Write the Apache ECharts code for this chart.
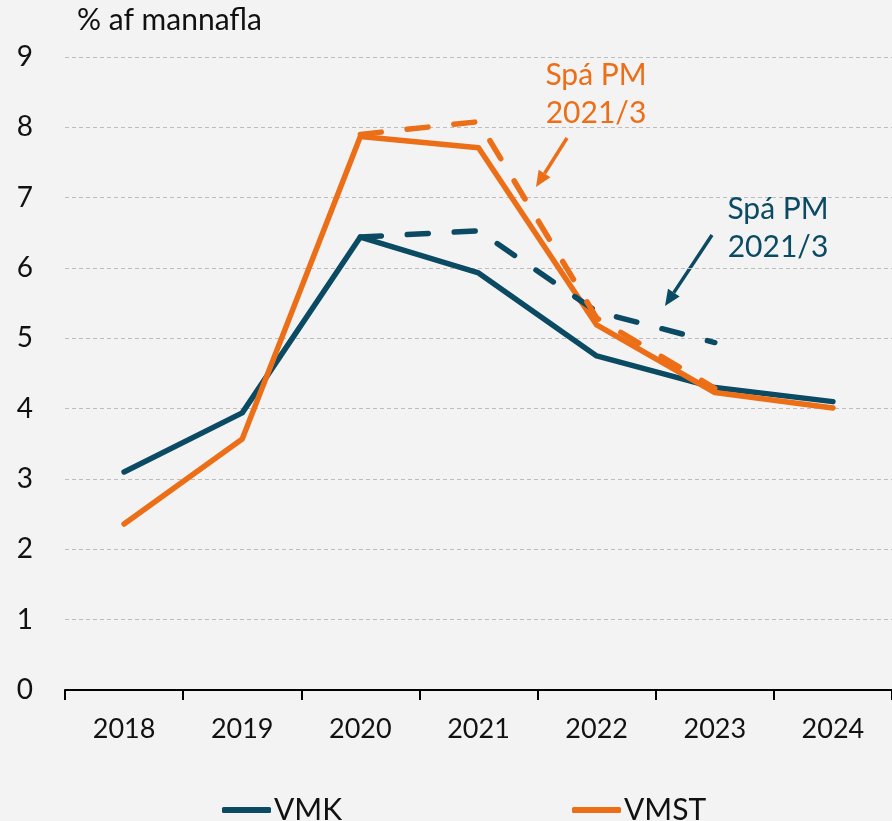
<!DOCTYPE html>
<html><head><meta charset="utf-8">
<script src="https://cdn.jsdelivr.net/npm/echarts@6/dist/echarts.min.js"></script>
<style>html,body{margin:0;padding:0;background:#f3f3f3}#c{width:892px;height:821px}</style>
</head><body><div id="c"></div>
<script>
const categories = ['2018','2019','2020','2021','2022','2023','2024'];
const vmk = [3.10, 3.94, 6.44, 5.93, 4.75, 4.30, 4.10];
const vmst = [2.36, 3.57, 7.87, 7.71, 5.19, 4.23, 4.01];
const vmkSpa = [null, null, 6.44, 6.53, 5.38, 4.94, null];
const vmstSpa = [null, null, 7.90, 8.08, 5.29, 4.29, null];
const yTicks = [0,1,2,3,4,5,6,7,8,9];

const TEAL = '#0b4a63';
const ORANGE = '#ec6e17';
const FONT = 'Lato';

function arrow(x1,y1,x2,y2,color){
  const ang = Math.atan2(y2-y1,x2-x1);
  const L = 16, W = 7;
  const bx = x2 - L*Math.cos(ang), by = y2 - L*Math.sin(ang);
  const px = -Math.sin(ang)*W, py = Math.cos(ang)*W;
  return [
    {type:'line', shape:{x1:x1,y1:y1,x2:bx,y2:by}, style:{stroke:color,lineWidth:3.5}},
    {type:'polygon', shape:{points:[[x2,y2],[bx+px,by+py],[bx-px,by-py]]}, style:{fill:color}}
  ];
}

const chart = echarts.init(document.getElementById('c'));
chart.setOption({
  backgroundColor:'#f3f3f3',
  animation:false,
  textStyle:{fontFamily:FONT},
  grid:{left:65,right:0,top:57,bottom:131,containLabel:false},
  xAxis:{type:'category',data:categories,boundaryGap:true,
    axisLine:{lineStyle:{color:'#000',width:2}},
    axisTick:{show:true,length:10,lineStyle:{color:'#000',width:2}},
    axisLabel:{color:'#111',fontSize:27,margin:26,fontFamily:FONT}},
  yAxis:{type:'value',min:yTicks[0],max:yTicks[yTicks.length-1],interval:1,
    name:'% af mannafla',nameLocation:'end',nameGap:22,
    nameTextStyle:{color:'#111',fontSize:30,align:'left',padding:[0,0,0,12],fontFamily:FONT},
    axisLine:{show:false},axisTick:{show:false},
    axisLabel:{color:'#111',fontSize:28,margin:32,fontFamily:FONT},
    splitLine:{lineStyle:{color:'#bdbdbd',type:[4,3],width:1}}},
  legend:[
    {data:['VMK'],left:222,top:795,padding:0,itemWidth:49,itemHeight:6,icon:'roundRect',itemGap:0,
     textStyle:{fontSize:30,color:'#111',fontFamily:FONT,padding:[0,0,0,-2]}},
    {data:['VMST'],left:572,top:795,padding:0,itemWidth:49,itemHeight:6,icon:'roundRect',itemGap:0,
     textStyle:{fontSize:30,color:'#111',fontFamily:FONT,padding:[0,0,0,-2]}}
  ],
  series:[
    {name:'VMK',type:'line',data:vmk,symbol:'none',color:TEAL,z:3,
     lineStyle:{width:5.5,color:TEAL,cap:'round',join:'round'}},
    {name:'VMST',type:'line',data:vmst,symbol:'none',color:ORANGE,z:4,
     lineStyle:{width:5.5,color:ORANGE,cap:'round',join:'round'}},
    {name:'VMK spá',type:'line',data:vmkSpa,symbol:'none',color:TEAL,z:5,
     lineStyle:{width:5.5,color:TEAL,type:[21,26],cap:'round',join:'round'}},
    {name:'VMST spá',type:'line',data:vmstSpa,symbol:'none',color:ORANGE,z:6,
     lineStyle:{width:5.5,color:ORANGE,type:[21,26],cap:'round',join:'round'}}
  ],
  graphic:[
    {type:'text',x:596,y:94,style:{text:'Spá PM\n2021/3',fill:ORANGE,font:'30px '+FONT,align:'center',verticalAlign:'middle',lineHeight:38}, z:10},
    {type:'text',x:778,y:228,style:{text:'Spá PM\n2021/3',fill:TEAL,font:'30px '+FONT,align:'center',verticalAlign:'middle',lineHeight:38}, z:10},
    ...arrow(567,138,536,187,ORANGE),
    ...arrow(712,235,665,306,TEAL)
  ]
});
</script></body></html>
